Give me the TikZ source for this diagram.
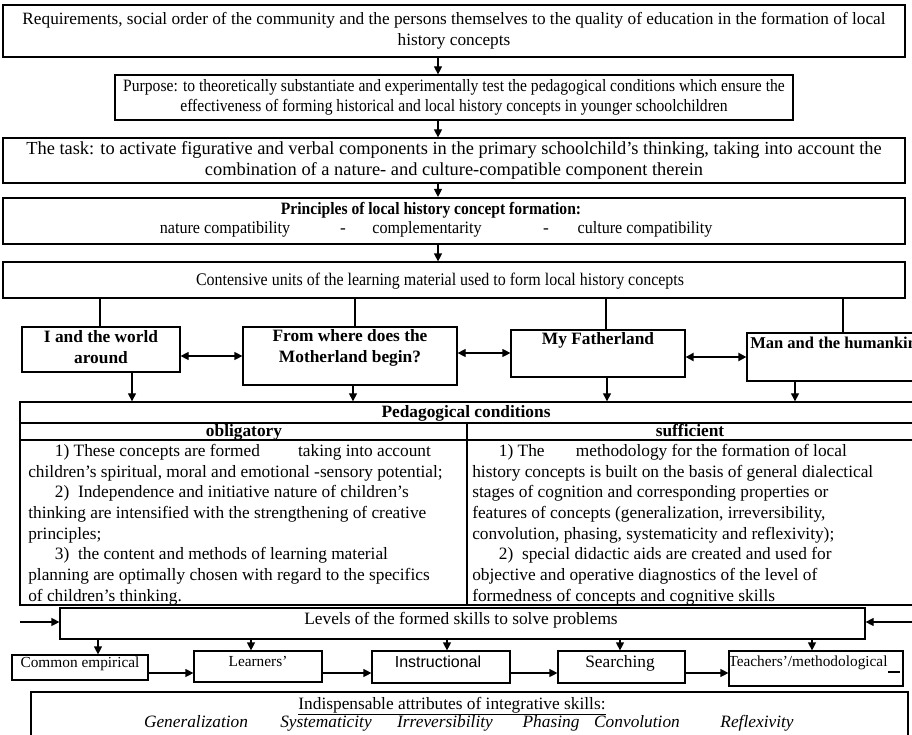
\documentclass[tikz,border=0pt]{standalone}
\usepackage{fontspec}
\setmainfont{Liberation Serif}
\newfontfamily\sansf{Liberation Sans}
\newfontfamily\condA[FakeStretch=0.9,Ligatures=TeX]{Liberation Serif}
\newfontfamily\condB[FakeStretch=0.93,Ligatures=TeX]{Liberation Serif}
\usetikzlibrary{arrows.meta,fit}
\begin{document}
\begin{tikzpicture}[x=0.75pt,y=-0.75pt,
  box/.style={draw,line width=0.9pt,inner sep=0pt},
  ln/.style={line width=0.9pt},
  t/.style={font=\fontsize{13}{15.5}\selectfont,align=center,inner sep=0pt},
  tb/.style={t,font=\fontsize{13}{15.5}\selectfont\bfseries},
  ts/.style={t,font=\fontsize{11.5}{14}\selectfont},
  ti/.style={t,font=\fontsize{13}{15.5}\selectfont\itshape,anchor=base},
  arr/.style={-{Triangle[length=6pt,width=6pt]},line width=0.9pt},
  darr/.style={{Triangle[length=6pt,width=6pt]}-{Triangle[length=6pt,width=6pt]},line width=0.9pt},
]
\useasboundingbox[fill=white] (0,0) rectangle (912,734);

% top chain
\node[box,fit={(3,5)(905,57)}] (b1) {};
\node[t,font=\fontsize{12.95}{15.5}\selectfont] (b1t) at (b1.center) {Requirements, social order of the community and the persons themselves to the quality of education in the formation of local\\history concepts};
\node[box,fit={(115,75)(793,120)}] (b2) {};
\node[t,font=\fontsize{13}{15.5}\selectfont\condA] (b2t) at (b2.center) {Purpose: to theoretically substantiate and experimentally test the pedagogical conditions which ensure the\\effectiveness of forming historical and local history concepts in younger schoolchildren};
\node[box,fit={(3,138)(905,183)}] (b3) {};
\node[t,font=\fontsize{13.8}{15.5}\selectfont] (b3t) at (b3.center) {The task: to activate figurative and verbal components in the primary schoolchild's thinking, taking into account the\\combination of a nature- and culture-compatible component therein};
\node[box,line width=1.6pt,fit={(3,198)(905,244)}] (b4) {};
\node[t,font=\fontsize{13}{15.5}\selectfont\condA\bfseries] (b4t) at (431,210) {Principles of local history concept formation:};
\node[t,font=\fontsize{13}{15.5}\selectfont\condB,anchor=base] (p1) at (225,233) {nature compatibility};
\node[t,anchor=base] (pd1) at (343,233) {-};
\node[t,font=\fontsize{13}{15.5}\selectfont\condB,anchor=base] (p2) at (427,233) {complementarity};
\node[t,anchor=base] (pd2) at (546,233) {-};
\node[t,font=\fontsize{13}{15.5}\selectfont\condB,anchor=base] (p3) at (645,233) {culture compatibility};
\node[box,fit={(3,262)(905,298)}] (b5) {};
\node[t,font=\fontsize{13.3}{15.5}\selectfont\condA] (b5t) at (440,281) {Contensive units of the learning material used to form local history concepts};

\coordinate (ax) at (438,0);
\draw[arr] (b1.south -| ax) -- (b2.north -| ax);
\draw[arr] (b2.south -| ax) -- (b3.north -| ax);
\draw[arr] (b3.south -| ax) -- (b4.north -| ax);
\draw[arr] (b4.south -| ax) -- (b5.north -| ax);

% content units
\node[box,fit={(22,327)(180,372)}] (u1) {};
\node[tb] (u1t) at (101,347) {I and the world\\around};
\node[box,fit={(243,327)(457,385)}] (u2) {};
\node[tb] (u2t) at (350,348) {From where does the\\Motherland begin?};
\node[box,fit={(511,330)(685,377)}] (u3) {};
\node[tb] (u3t) at (598,340) {My Fatherland};
\node[box,fit={(747,333)(950,381)}] (u4) {};
\node[tb,font=\fontsize{12.4}{15}\selectfont\bfseries,anchor=west] (u4t) at (750,343) {Man and the humankind};

\coordinate (v1) at (100,0);
\coordinate (v2) at (355,0);
\coordinate (v3) at (606,0);
\coordinate (v4) at (843,0);
\draw[ln] (b5.south -| v1) -- (u1.north -| v1);
\draw[ln] (b5.south -| v2) -- (u2.north -| v2);
\draw[ln] (b5.south -| v3) -- (u3.north -| v3);
\draw[ln] (b5.south -| v4) -- (u4.north -| v4);

\coordinate (h1) at (0,356);
\coordinate (h2) at (0,353);
\coordinate (h3) at (0,357);
\draw[darr] (u1.east |- h1) -- (u2.west |- h1);
\draw[darr] (u2.east |- h2) -- (u3.west |- h2);
\draw[darr,line width=1.8pt] (u3.east |- h3) -- (u4.west |- h3);

% pedagogical conditions
\node[box,line width=1pt,fit={(20,402)(950,605)}] (ped) {};
\coordinate (d1) at (132,0);
\coordinate (d2) at (353,0);
\coordinate (d3) at (607,0);
\coordinate (d4) at (795,0);
\draw[arr] (u1.south -| d1) -- (ped.north -| d1);
\draw[arr] (u2.south -| d2) -- (ped.north -| d2);
\draw[arr] (u3.south -| d3) -- (ped.north -| d3);
\draw[arr] (u4.south -| d4) -- (ped.north -| d4);

\coordinate (pl1) at (0,423);
\coordinate (pl2) at (0,440);
\coordinate (pdx) at (467,0);
\draw[line width=1pt] (ped.west |- pl1) -- (ped.east |- pl1);
\draw[line width=1pt] (ped.west |- pl2) -- (ped.east |- pl2);
\draw[line width=1pt] (pdx |- pl1) -- (pdx |- ped.south);
\node[tb,anchor=base] (pc) at (466,417) {Pedagogical conditions};
\node[tb,anchor=base] (ob) at (244,436) {obligatory};
\node[tb,anchor=base] (su) at (690,436) {sufficient};

\node[t,align=left,anchor=north west] (lt) at (28,444) {%
\hspace*{20pt}1) These concepts are formed\hspace{2.2em}taking into account\\
children's spiritual, moral and emotional -sensory potential;\\
\hspace*{20pt}2)\ \ Independence and initiative nature of children's\\
thinking are intensified with the strengthening of creative\\
principles;\\
\hspace*{20pt}3)\ \ the content and methods of learning material\\
planning are optimally chosen with regard to the specifics\\
of children's thinking.};
\node[t,align=left,anchor=north west] (rt) at (472,444) {%
\hspace*{20pt}1) The\hspace{1.8em}methodology for the formation of local\\
history concepts is built on the basis of general dialectical\\
stages of cognition and corresponding properties or\\
features of concepts (generalization, irreversibility,\\
convolution, phasing, systematicity and reflexivity);\\
\hspace*{20pt}2)\ \ special didactic aids are created and used for\\
objective and operative diagnostics of the level of\\
formedness of concepts and cognitive skills};

% levels
\node[box,fit={(60,608)(865,639)}] (lv) {};
\node[t] (lvt) at (461,620) {Levels of the formed skills to solve problems};
\coordinate (lin) at (20,622);
\coordinate (rin) at (912,622);
\draw[arr] (lin) -- (lin -| lv.west);
\draw[arr] (rin) -- (rin -| lv.east);

\node[box,fit={(12,655)(148,680)}] (c1) {};
\node[ts] (c1t) at (80,664) {Common empirical};
\node[box,fit={(194,651)(322,682)}] (c2) {};
\node[ts] (c2t) at (258,661) {Learners'};
\node[box,fit={(372,651)(510,683)}] (c3) {};
\node[t,font=\fontsize{12}{14}\selectfont\sansf] (c3t) at (438,662) {Instructional};
\node[box,fit={(558,651)(685,683)}] (c4) {};
\node[t] (c4t) at (620,663) {Searching};
\node[box,fit={(729,651)(903,686)}] (c5) {};
\node[ts] (c5t) at (808,663) {Teachers'/methodological};
\coordinate (ul1) at (888,672);
\coordinate (ul2) at (900,672);
\draw[line width=0.8pt] (ul1) -- (ul2);

\coordinate (e1) at (98,0);
\coordinate (e2) at (251,0);
\coordinate (e3) at (447,0);
\coordinate (e4) at (620,0);
\coordinate (e5) at (812,0);
\draw[arr] (lv.south -| e1) -- (c1.north -| e1);
\draw[arr] (lv.south -| e2) -- (c2.north -| e2);
\draw[arr] (lv.south -| e3) -- (c3.north -| e3);
\draw[arr] (lv.south -| e4) -- (c4.north -| e4);
\draw[arr] (lv.south -| e5) -- (c5.north -| e5);

\coordinate (hh) at (0,673);
\draw[arr] (c1.east |- hh) -- (c2.west |- hh);
\draw[arr] (c2.east |- hh) -- (c3.west |- hh);
\draw[arr] (c3.east |- hh) -- (c4.west |- hh);
\draw[arr] (c4.east |- hh) -- (c5.west |- hh);

% attributes
\node[box,line width=1pt,fit={(31,692)(908,750)}] (ib) {};
\node[t,anchor=base] (ibt) at (452,709) {\underline{Indispensable attributes of integrative skills:}};
\node[ti] (a1) at (196,727) {Generalization};
\node[ti] (a2) at (326,727) {Systematicity};
\node[ti] (a3) at (445,727) {Irreversibility};
\node[ti] (a4) at (551,727) {Phasing};
\node[ti] (a5) at (637,727) {Convolution};
\node[ti] (a6) at (757,727) {Reflexivity};
\end{tikzpicture}
\end{document}
